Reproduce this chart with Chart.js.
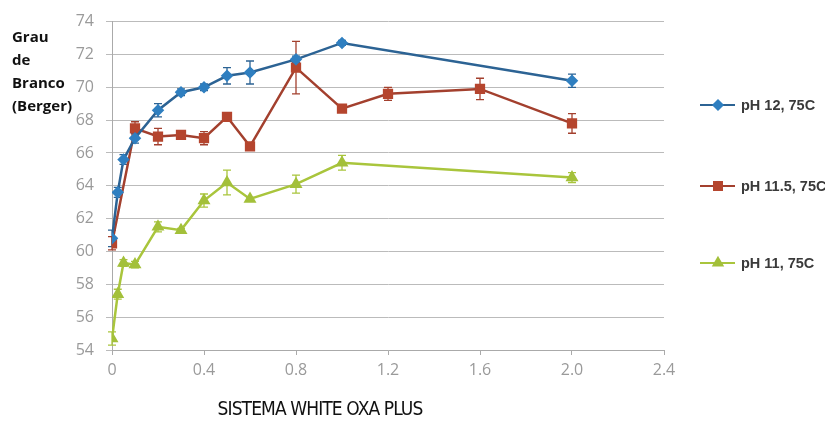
<!DOCTYPE html>
<html>
<head>
<meta charset="utf-8">
<script src="https://cdn.jsdelivr.net/npm/chart.js@4/dist/chart.umd.min.js"></script>
<style>
  html, body { margin: 0; padding: 0; background: #fff; }
  #wrap { position: relative; width: 825px; height: 434px; }
  #yTitle {
    position: absolute; left: 12px; top: 25px;
    font: bold 15px 'Open Sans', sans-serif; line-height: 23px; color: #111;
  }
  #xTitle {
    position: absolute; left: 0; width: 640px; top: 397px; text-align: center;
    font: 19px 'DejaVu Sans Condensed', sans-serif; color: #111; letter-spacing: -0.9px;
  }
</style>
</head>
<body>
<div id="wrap">
  <canvas id="chart" width="825" height="434"></canvas>
  <div id="yTitle">Grau<br>de<br>Branco<br>(Berger)</div>
  <div id="xTitle">SISTEMA WHITE OXA PLUS</div>
</div>
<script>
// --- Data ---
const seriesLabels = ['pH 12, 75C', 'pH 11.5, 75C', 'pH 11, 75C'];

const xPH12 = [0, 0.025, 0.05, 0.1, 0.2, 0.3, 0.4, 0.5, 0.6, 0.8, 1.0, 2.0];
const yPH12 = [60.8, 63.6, 65.6, 66.9, 68.6, 69.7, 70.0, 70.7, 70.9, 71.7, 72.7, 70.4];
const ePH12 = [0.5, 0.3, 0.3, 0.3, 0.4, 0.2, 0.2, 0.5, 0.7, 0.2, 0.15, 0.4];

const xPH115 = [0, 0.1, 0.2, 0.3, 0.4, 0.5, 0.6, 0.8, 1.0, 1.2, 1.6, 2.0];
const yPH115 = [60.5, 67.5, 67.0, 67.1, 66.9, 68.2, 66.4, 71.2, 68.7, 69.6, 69.9, 67.8];
const ePH115 = [0.4, 0.4, 0.5, 0.2, 0.4, 0.2, 0.2, 1.6, 0.2, 0.4, 0.65, 0.6];

const xPH11 = [0, 0.025, 0.05, 0.1, 0.2, 0.3, 0.4, 0.5, 0.6, 0.8, 1.0, 2.0];
const yPH11 = [54.7, 57.4, 59.3, 59.2, 61.5, 61.3, 63.1, 64.2, 63.2, 64.1, 65.4, 64.5];
const ePH11 = [0.4, 0.3, 0.2, 0.2, 0.3, 0.1, 0.4, 0.75, 0.1, 0.55, 0.45, 0.3];

const xTickLabels = ['0', '0.4', '0.8', '1.2', '1.6', '2.0', '2.4'];

const toPoints = (xs, ys) => xs.map((x, i) => ({ x: x, y: ys[i] }));

// --- Error bars, drawn through the chart scales ---
const errorBars = {
    id: 'errorBars',
    beforeDatasetsDraw(chart) {
        const ctx = chart.ctx;
        const xs = chart.scales.x, ys = chart.scales.y;
        chart.data.datasets.forEach(ds => {
            ctx.save();
            ctx.strokeStyle = ds.borderColor;
            ctx.lineWidth = 1.3;
            ds.data.forEach((p, i) => {
                const e = ds.errors[i];
                const px = xs.getPixelForValue(p.x);
                const top = ys.getPixelForValue(p.y + e);
                const bot = ys.getPixelForValue(p.y - e);
                ctx.beginPath();
                ctx.moveTo(px, top); ctx.lineTo(px, bot);
                ctx.moveTo(px - 4, top); ctx.lineTo(px + 4, top);
                ctx.moveTo(px - 4, bot); ctx.lineTo(px + 4, bot);
                ctx.stroke();
            });
            ctx.restore();
        });
    }
};

// --- Legend on the right: line sample + marker + label ---
const sideLegend = {
    id: 'sideLegend',
    afterDraw(chart) {
        const ctx = chart.ctx;
        const rows = [105, 186, 263];
        chart.data.datasets.forEach((ds, i) => {
            const y = rows[i];
            ctx.save();
            ctx.strokeStyle = ds.borderColor;
            ctx.lineWidth = 2.2;
            ctx.beginPath();
            ctx.moveTo(700, y); ctx.lineTo(735, y);
            ctx.stroke();
            ctx.fillStyle = ds.pointBackgroundColor;
            ctx.strokeStyle = ds.pointBackgroundColor;
            Chart.helpers.drawPoint(ctx, { pointStyle: ds.pointStyle, radius: ds.pointRadius, borderWidth: 1 }, 718, y);
            ctx.fillStyle = '#3a3a3a';
            ctx.font = 'bold 14.5px "Liberation Sans", Arial, sans-serif';
            ctx.textBaseline = 'middle';
            ctx.fillText(ds.label, 741, y + 1);
            ctx.restore();
        });
    }
};

const tickFont = { family: "'Open Sans', sans-serif", size: 16 };

new Chart(document.getElementById('chart'), {
    type: 'scatter',
    data: {
        datasets: [
            {
                label: seriesLabels[0], data: toPoints(xPH12, yPH12), errors: ePH12,
                borderColor: '#2c6394', pointBackgroundColor: '#2f7fc0', pointBorderColor: '#2f7fc0',
                pointStyle: 'rectRot', pointRadius: 4.5, borderWidth: 2.5, showLine: true
            },
            {
                label: seriesLabels[1], data: toPoints(xPH115, yPH115), errors: ePH115,
                borderColor: '#a3402e', pointBackgroundColor: '#b5452e', pointBorderColor: '#b5452e',
                pointStyle: 'rect', pointRadius: 5.5, borderWidth: 2.5, showLine: true
            },
            {
                label: seriesLabels[2], data: toPoints(xPH11, yPH11), errors: ePH11,
                borderColor: '#a9c53c', pointBackgroundColor: '#a3c03a', pointBorderColor: '#a3c03a',
                pointStyle: 'triangle', pointRadius: 5, borderWidth: 2.5, showLine: true
            }
        ]
    },
    options: {
        responsive: false,
        animation: false,
        layout: { padding: { top: 20, right: 161, left: 0, bottom: 0 } },
        plugins: { legend: { display: false }, tooltip: { enabled: false } },
        scales: {
            x: {
                type: 'linear', min: 0, max: 2.4,
                afterFit: s => { s.height = 84; },
                border: { color: '#aaa' },
                grid: { drawOnChartArea: false, color: '#aaa', tickLength: 5 },
                ticks: {
                    stepSize: 0.4, color: '#9a9a9a', font: tickFont, padding: 6,
                    callback: (v, i) => xTickLabels[i]
                }
            },
            y: {
                min: 54, max: 74,
                afterFit: s => { s.width = 112; },
                border: { color: '#aaa' },
                grid: { color: '#bbb', tickLength: 6 },
                ticks: { stepSize: 2, color: '#9a9a9a', font: tickFont, padding: 12 }
            }
        }
    },
    plugins: [errorBars, sideLegend]
});
</script>
</body>
</html>
